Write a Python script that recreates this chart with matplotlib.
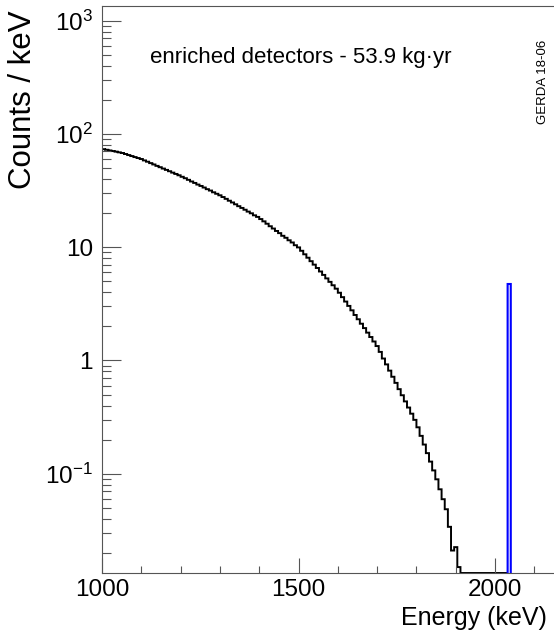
import numpy as np
import matplotlib.pyplot as plt
from matplotlib.ticker import MultipleLocator, LogLocator, NullFormatter

plt.rcParams['font.family'] = ['Liberation Sans', 'DejaVu Sans']

# 2nbb histogram, 8 keV bins starting at 1000 keV (counts / keV)
BIN_WIDTH = 8
E_START = 1000
counts_2nbb = [
    73.3, 72.4, 71.4, 70.5, 69.7, 68.7, 67.8, 66.4, 65.0, 63.7, 62.4, 61.2,
    60.0, 58.3, 56.8, 55.2, 53.7, 52.2, 50.8, 49.4, 48.1, 46.8, 45.5, 44.3, 43.1,
    41.8, 40.6, 39.3, 38.0, 36.9, 35.7, 34.7, 33.6, 32.5, 31.6, 30.5, 29.6, 28.7,
    27.7, 26.7, 25.7, 24.8, 23.9, 23.0, 22.2, 21.4, 20.6, 19.9, 19.1, 18.5,
    17.7, 16.9, 16.1, 15.3, 14.6, 13.9, 13.3, 12.6, 12.1, 11.5, 11.0, 10.4, 9.95,
    9.29, 8.65, 8.07, 7.52, 7.01, 6.55, 6.10, 5.69, 5.30, 4.94, 4.61, 4.30,
    3.96, 3.62, 3.31, 3.03, 2.77, 2.52, 2.31, 2.11, 1.93, 1.76, 1.61, 1.47, 1.34,
    1.19, 1.04, 0.923, 0.813, 0.718, 0.634, 0.558, 0.493, 0.435, 0.384, 0.339, 0.299,
    0.257, 0.216, 0.181, 0.152, 0.128, 0.107,
    0.0893, 0.0729, 0.0596, 0.0486,
    0.034, 0.021, 0.0225, 0.015,
    0, 0, 0, 0, 0, 0, 0, 0, 0, 0, 0, 0, 0, 0, 0,
]

# signal bin at Qbb
signal_lo, signal_hi = 2032, 2040
signal_height = 4.73

x_range = (1000, 2150)
y_range = (0.0133, 1345)
ytick_vals = [0.1, 1, 10, 100, 1000]
ytick_labels = [r'$\mathregular{10^{-1}}$', '1', '10', r'$\mathregular{10^{2}}$', r'$\mathregular{10^{3}}$']

fig = plt.figure(figsize=(5.54, 6.34), dpi=100)
ax = fig.add_axes([102 / 554, 61 / 634, 452 / 554, 567 / 634])
ax.set_yscale('log')

edges = E_START + BIN_WIDTH * np.arange(len(counts_2nbb) + 1)
# empty bins are drawn on the lower frame, like ROOT does
ax.stairs(np.clip(counts_2nbb, y_range[0], None), edges, color='black', lw=1.4,
          baseline=None, snap=False)
ax.stairs([signal_height], [signal_lo, signal_hi], color='#0000ff', lw=1.5,
          baseline=y_range[0], snap=False)

ax.set_xlim(*x_range)
ax.set_ylim(*y_range)

ax.xaxis.set_major_locator(MultipleLocator(500))
ax.xaxis.set_minor_locator(MultipleLocator(100))
ax.set_yticks(ytick_vals, ytick_labels)
ax.yaxis.set_minor_locator(LogLocator(base=10, subs=np.arange(2, 10)))
ax.yaxis.set_minor_formatter(NullFormatter())

tick_col = '#555555'
ax.tick_params(axis='x', which='major', direction='in', length=10.8, width=0.8, color=tick_col,
               labelsize=17.5, pad=4.5)
ax.tick_params(axis='x', which='minor', direction='in', length=5.4, width=0.8, color=tick_col)
ax.tick_params(axis='y', which='major', direction='in', length=13.7, width=0.8, color=tick_col,
               labelsize=17.5, pad=6.5)
ax.tick_params(axis='y', which='minor', direction='in', length=6.8, width=0.8, color=tick_col)

for side in ['left', 'bottom', 'top']:
    ax.spines[side].set_color(tick_col)
    ax.spines[side].set_linewidth(0.8)
ax.spines['right'].set_visible(False)

fig.text(547 / 554, 1 - 618 / 634, 'Energy (keV)', ha='right', va='center', fontsize=18)
fig.text(23 / 554, 1 - 10 / 634, 'Counts / keV', rotation=90, ha='center', va='top', fontsize=22.5)
fig.text(150 / 554, 1 - 63 / 634, 'enriched detectors - 53.9 kg\u00b7yr', ha='left', va='baseline',
         fontsize=16)
fig.text(543 / 554, 1 - 82 / 634, 'GERDA 18-06', rotation=90, ha='center', va='center', fontsize=9.5)

fig.savefig('out.png', dpi=100)
